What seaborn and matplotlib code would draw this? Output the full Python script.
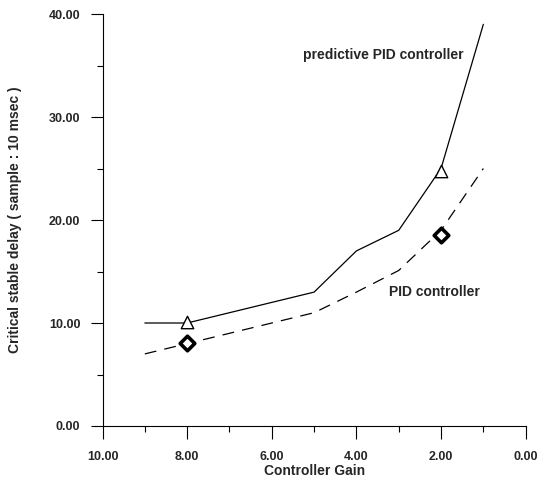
import matplotlib
matplotlib.use("Agg")
import matplotlib.pyplot as plt
import seaborn as sns
import pandas as pd
from matplotlib.ticker import MultipleLocator, FormatStrFormatter

# Controller gain values (x) and the critical stable delay of each controller
gain = [9, 8, 7, 6, 5, 4, 3, 2, 1]
predictive_pid = [10, 10, 11, 12, 13, 17, 19, 25, 39]
pid = [7, 8, 9, 10, 11, 13, 15.1, 19, 25]

# Highlighted operating points
marker_gain = [8, 2]
predictive_marks = [10.1, 24.8]
pid_marks = [8.1, 18.5]

sns.set_style("ticks")
plt.rcParams["font.family"] = ["Liberation Sans", "DejaVu Sans"]
plt.rcParams["font.weight"] = "bold"

fig = plt.figure(figsize=(5.47, 4.80), dpi=100)
ax = fig.add_axes([0.1874, 0.1125, 0.7736, 0.8583])

df_pred = pd.DataFrame({"gain": gain, "delay": predictive_pid})
df_pid = pd.DataFrame({"gain": gain, "delay": pid})

sns.lineplot(data=df_pred, x="gain", y="delay", ax=ax, color="black",
             linewidth=0.9, sort=False)
sns.lineplot(data=df_pid, x="gain", y="delay", ax=ax, color="black",
             linewidth=0.9, sort=False)
ax.lines[1].set_dashes((9.5, 6.5))

sns.scatterplot(x=marker_gain, y=predictive_marks, ax=ax, marker="^", s=80,
                facecolor="white", edgecolor="black", linewidth=1.0, zorder=3)
sns.scatterplot(x=marker_gain, y=pid_marks, ax=ax, marker="D", s=55,
                facecolor="white", edgecolor="black", linewidth=2.6, zorder=3)

ax.text(5.26, 36.0, "predictive PID controller", fontsize=10, fontweight="bold",
        ha="left", va="center")
ax.text(3.24, 13.0, "PID controller", fontsize=10, fontweight="bold",
        ha="left", va="center")

ax.set_xlim(10, 0)
ax.set_ylim(0, 40)
ax.xaxis.set_major_locator(MultipleLocator(2))
ax.xaxis.set_minor_locator(MultipleLocator(1))
ax.yaxis.set_major_locator(MultipleLocator(10))
ax.yaxis.set_minor_locator(MultipleLocator(5))
ax.xaxis.set_major_formatter(FormatStrFormatter("%.2f"))
ax.yaxis.set_major_formatter(FormatStrFormatter("%.2f"))

ax.tick_params(which="major", direction="out", length=9, width=0.8,
               labelsize=9, pad=7, color="black")
ax.tick_params(axis="x", which="major", pad=9)
ax.tick_params(which="minor", direction="out", length=4.5, width=0.8,
               color="black")
for lbl in ax.get_xticklabels() + ax.get_yticklabels():
    lbl.set_fontweight("bold")

sns.despine(ax=ax)
for side in ("left", "bottom"):
    ax.spines[side].set_linewidth(0.8)
    ax.spines[side].set_color("black")

ax.set_xlabel("Controller Gain", fontsize=10, fontweight="bold", labelpad=1)
ax.set_ylabel("Critical stable delay ( sample : 10 msec )", fontsize=10,
              fontweight="bold", labelpad=19)

fig.savefig("out.png", dpi=100)
